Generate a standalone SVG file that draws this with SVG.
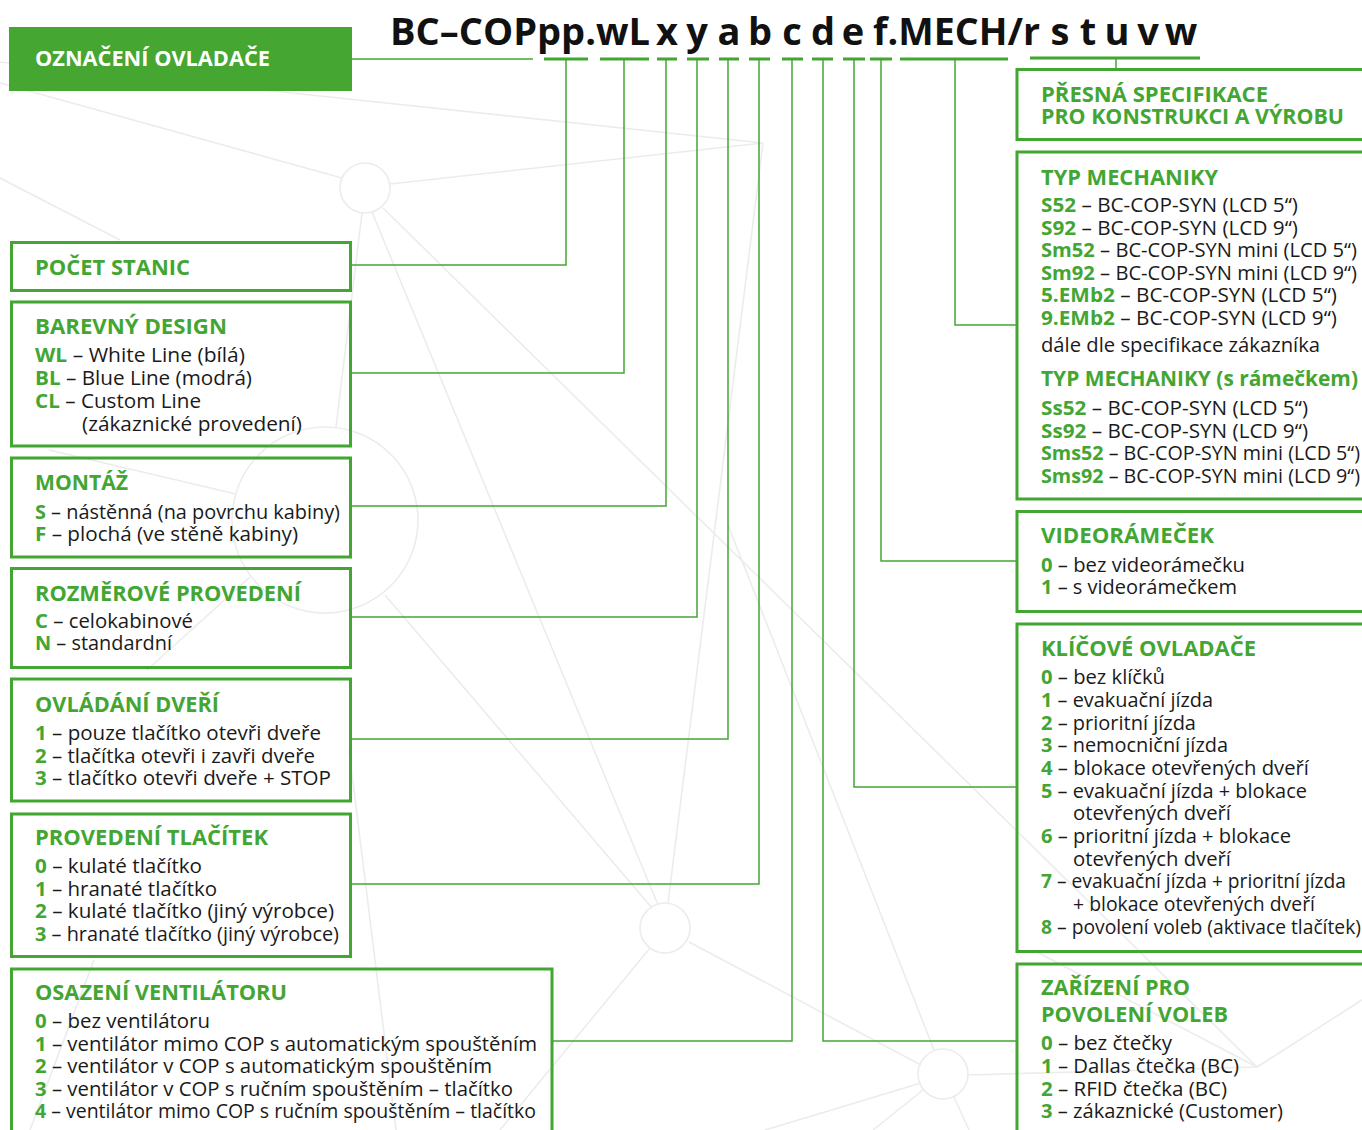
<svg xmlns="http://www.w3.org/2000/svg" width="1362" height="1130" viewBox="0 0 1362 1130">
<style>
.bg{fill:none;stroke:#ececec;stroke-width:1.6}
.box{fill:none;stroke:#43a633;stroke-width:3}
.cn{fill:none;stroke:#43a633;stroke-width:1.5}
.ul{fill:none;stroke:#43a633;stroke-width:3}
.h{font-family:"Open Sans","Noto Sans",sans-serif;font-weight:700;font-size:21px;fill:#43a633}
.hr{font-family:"Open Sans","Noto Sans",sans-serif;font-weight:700;font-size:21px;fill:#43a633}
.t{font-family:"Open Sans","Noto Sans",sans-serif;font-weight:400;font-size:20px;fill:#1a1a1a}
.tr{font-family:"Open Sans","Noto Sans",sans-serif;font-weight:400;font-size:19.5px;fill:#1a1a1a}
.k{font-weight:700;fill:#43a633}
.ti{font-family:"Open Sans","Noto Sans",sans-serif;font-weight:700;font-size:38px;fill:#111}
.w{font-family:"Open Sans","Noto Sans",sans-serif;font-weight:700;font-size:21px;fill:#fff}
</style>
<rect width="1362" height="1130" fill="#fff"/>
<g id="background">
<line class="bg" x1="0" y1="62" x2="763" y2="143"/>
<line class="bg" x1="0" y1="83" x2="342" y2="178"/>
<line class="bg" x1="390" y1="184" x2="763" y2="143"/>
<line class="bg" x1="763" y1="143" x2="668" y2="903"/>
<line class="bg" x1="372" y1="212" x2="658" y2="905"/>
<line class="bg" x1="383" y1="208" x2="1257" y2="1067"/>
<line class="bg" x1="362" y1="213" x2="336" y2="427"/>
<line class="bg" x1="728" y1="525" x2="934" y2="1050"/>
<line class="bg" x1="385" y1="595" x2="652" y2="908"/>
<line class="bg" x1="650" y1="948" x2="500" y2="1130"/>
<line class="bg" x1="689" y1="942" x2="921" y2="1065"/>
<line class="bg" x1="967" y1="1075" x2="1257" y2="1067"/>
<line class="bg" x1="921" y1="1083" x2="765" y2="1130"/>
<line class="bg" x1="923" y1="1090" x2="873" y2="1130"/>
<line class="bg" x1="954" y1="1097" x2="969" y2="1130"/>
<line class="bg" x1="1033" y1="950" x2="1257" y2="1067"/>
<line class="bg" x1="1257" y1="1067" x2="1362" y2="1000"/>
<line class="bg" x1="349" y1="750" x2="396" y2="1130"/>
<line class="bg" x1="94" y1="960" x2="30" y2="1130"/>
<line class="bg" x1="49" y1="450" x2="236" y2="494"/>
<line class="bg" x1="250" y1="577" x2="147" y2="670"/>
<line class="bg" x1="0" y1="178" x2="120" y2="240"/>
<circle class="bg" cx="365" cy="188" r="25"/>
<circle class="bg" cx="325" cy="520" r="93"/>
<circle class="bg" cx="665" cy="928" r="25"/>
<circle class="bg" cx="943" cy="1074" r="25"/>
</g>
<g id="title">
<text class="ti" x="390" y="45" textLength="260" lengthAdjust="spacingAndGlyphs">BC–COPpp.wL</text>
<text class="ti" x="667" y="45" text-anchor="middle">x</text>
<text class="ti" x="697" y="45" text-anchor="middle">y</text>
<text class="ti" x="729" y="45" text-anchor="middle">a</text>
<text class="ti" x="760" y="45" text-anchor="middle">b</text>
<text class="ti" x="792" y="45" text-anchor="middle">c</text>
<text class="ti" x="823" y="45" text-anchor="middle">d</text>
<text class="ti" x="853" y="45" text-anchor="middle">e</text>
<text class="ti" x="873" y="45" textLength="167" lengthAdjust="spacingAndGlyphs">f.MECH/r</text>
<text class="ti" x="1060" y="45" text-anchor="middle">s</text>
<text class="ti" x="1088" y="45" text-anchor="middle">t</text>
<text class="ti" x="1117" y="45" text-anchor="middle">u</text>
<text class="ti" x="1148" y="45" text-anchor="middle">v</text>
<text class="ti" x="1181" y="45" text-anchor="middle">w</text>
</g>
<g id="connectors">
<line class="cn" x1="352" y1="59" x2="533" y2="59"/>
<path class="ul" d="M544 59H588M600 59H649M657 59H677M687 59H709M719 59H739M749 59H770M782 59H803M812 59H833M843 59H865M870 59H892M900 59H1008M1030 58H1200"/>
<polyline class="cn" points="566,59 566,265 351,265"/>
<polyline class="cn" points="624,59 624,373 351,373"/>
<polyline class="cn" points="666,59 666,506 351,506"/>
<polyline class="cn" points="697,59 697,617 351,617"/>
<polyline class="cn" points="728,59 728,739 351,739"/>
<polyline class="cn" points="759,59 759,884 351,884"/>
<polyline class="cn" points="792,59 792,1041 552,1041"/>
<polyline class="cn" points="823,59 823,1041 1016,1041"/>
<polyline class="cn" points="854,59 854,787 1016,787"/>
<polyline class="cn" points="881,59 881,561 1016,561"/>
<polyline class="cn" points="955,59 955,325 1016,325"/>
<line class="cn" x1="1116" y1="58" x2="1116" y2="68"/>
</g>
<g id="oznaceni">
<rect x="9" y="27" width="343" height="64" fill="#45a632"/>
<text class="w" x="35" y="66" textLength="235" lengthAdjust="spacingAndGlyphs">OZNAČENÍ OVLADAČE</text>
</g>
<g id="pocet-stanic">
<rect class="box" x="11.5" y="242.5" width="339" height="48"/>
<text class="h" x="35" y="275" textLength="155" lengthAdjust="spacingAndGlyphs">POČET STANIC</text>
</g>
<g id="barevny-design">
<rect class="box" x="11.5" y="302" width="339" height="144"/>
<text class="h" x="35" y="334" textLength="192" lengthAdjust="spacingAndGlyphs">BAREVNÝ DESIGN</text>
<text class="t" x="35" y="362" textLength="210" lengthAdjust="spacingAndGlyphs"><tspan class="k">WL</tspan> – White Line (bílá)</text>
<text class="t" x="35" y="385" textLength="217" lengthAdjust="spacingAndGlyphs"><tspan class="k">BL</tspan> – Blue Line (modrá)</text>
<text class="t" x="35" y="408" textLength="166" lengthAdjust="spacingAndGlyphs"><tspan class="k">CL</tspan> – Custom Line</text>
<text class="t" x="82" y="431" textLength="220" lengthAdjust="spacingAndGlyphs">(zákaznické provedení)</text>
</g>
<g id="montaz">
<rect class="box" x="11.5" y="458" width="339" height="99"/>
<text class="h" x="35" y="490" textLength="93" lengthAdjust="spacingAndGlyphs">MONTÁŽ</text>
<text class="t" x="35" y="519" textLength="305" lengthAdjust="spacingAndGlyphs"><tspan class="k">S</tspan> – nástěnná (na povrchu kabiny)</text>
<text class="t" x="35" y="541" textLength="263" lengthAdjust="spacingAndGlyphs"><tspan class="k">F</tspan> – plochá (ve stěně kabiny)</text>
</g>
<g id="rozmerove-provedeni">
<rect class="box" x="11.5" y="568.5" width="339" height="99"/>
<text class="h" x="35" y="601" textLength="266" lengthAdjust="spacingAndGlyphs">ROZMĚROVÉ PROVEDENÍ</text>
<text class="t" x="35" y="628" textLength="158" lengthAdjust="spacingAndGlyphs"><tspan class="k">C</tspan> – celokabinové</text>
<text class="t" x="35" y="650" textLength="137" lengthAdjust="spacingAndGlyphs"><tspan class="k">N</tspan> – standardní</text>
</g>
<g id="ovladani-dveri">
<rect class="box" x="11.5" y="679" width="339" height="122"/>
<text class="h" x="35" y="712" textLength="184" lengthAdjust="spacingAndGlyphs">OVLÁDÁNÍ DVEŘÍ</text>
<text class="t" x="35" y="740" textLength="286" lengthAdjust="spacingAndGlyphs"><tspan class="k">1</tspan> – pouze tlačítko otevři dveře</text>
<text class="t" x="35" y="763" textLength="280" lengthAdjust="spacingAndGlyphs"><tspan class="k">2</tspan> – tlačítka otevři i zavři dveře</text>
<text class="t" x="35" y="785" textLength="296" lengthAdjust="spacingAndGlyphs"><tspan class="k">3</tspan> – tlačítko otevři dveře + STOP</text>
</g>
<g id="provedeni-tlacitek">
<rect class="box" x="11.5" y="814" width="339" height="142.5"/>
<text class="h" x="35" y="845" textLength="233" lengthAdjust="spacingAndGlyphs">PROVEDENÍ TLAČÍTEK</text>
<text class="t" x="35" y="873" textLength="167" lengthAdjust="spacingAndGlyphs"><tspan class="k">0</tspan> – kulaté tlačítko</text>
<text class="t" x="35" y="896" textLength="182" lengthAdjust="spacingAndGlyphs"><tspan class="k">1</tspan> – hranaté tlačítko</text>
<text class="t" x="35" y="918" textLength="299" lengthAdjust="spacingAndGlyphs"><tspan class="k">2</tspan> – kulaté tlačítko (jiný výrobce)</text>
<text class="t" x="35" y="941" textLength="304" lengthAdjust="spacingAndGlyphs"><tspan class="k">3</tspan> – hranaté tlačítko (jiný výrobce)</text>
</g>
<g id="osazeni-ventilatoru">
<rect class="box" x="11.5" y="969" width="540.5" height="200"/>
<text class="h" x="35" y="1000" textLength="252" lengthAdjust="spacingAndGlyphs">OSAZENÍ VENTILÁTORU</text>
<text class="t" x="35" y="1028" textLength="175" lengthAdjust="spacingAndGlyphs"><tspan class="k">0</tspan> – bez ventilátoru</text>
<text class="t" x="35" y="1051" textLength="502" lengthAdjust="spacingAndGlyphs"><tspan class="k">1</tspan> – ventilátor mimo COP s automatickým spouštěním</text>
<text class="t" x="35" y="1073" textLength="457" lengthAdjust="spacingAndGlyphs"><tspan class="k">2</tspan> – ventilátor v COP s automatickým spouštěním</text>
<text class="t" x="35" y="1096" textLength="478" lengthAdjust="spacingAndGlyphs"><tspan class="k">3</tspan> – ventilátor v COP s ručním spouštěním – tlačítko</text>
<text class="t" x="35" y="1118" textLength="501" lengthAdjust="spacingAndGlyphs"><tspan class="k">4</tspan> – ventilátor mimo COP s ručním spouštěním – tlačítko</text>
</g>
<g id="presna-specifikace">
<rect class="box" x="1017" y="69.5" width="400" height="70"/>
<text class="hr" x="1041" y="102" textLength="227" lengthAdjust="spacingAndGlyphs">PŘESNÁ SPECIFIKACE</text>
<text class="hr" x="1041" y="124" textLength="303" lengthAdjust="spacingAndGlyphs">PRO KONSTRUKCI A VÝROBU</text>
</g>
<g id="typ-mechaniky">
<rect class="box" x="1017" y="152" width="400" height="347"/>
<text class="hr" x="1041" y="185" textLength="177" lengthAdjust="spacingAndGlyphs">TYP MECHANIKY</text>
<text class="tr" x="1041" y="212" textLength="257" lengthAdjust="spacingAndGlyphs"><tspan class="k">S52</tspan> – BC-COP-SYN (LCD 5“)</text>
<text class="tr" x="1041" y="235" textLength="257" lengthAdjust="spacingAndGlyphs"><tspan class="k">S92</tspan> – BC-COP-SYN (LCD 9“)</text>
<text class="tr" x="1041" y="257" textLength="316" lengthAdjust="spacingAndGlyphs"><tspan class="k">Sm52</tspan> – BC-COP-SYN mini (LCD 5“)</text>
<text class="tr" x="1041" y="280" textLength="316" lengthAdjust="spacingAndGlyphs"><tspan class="k">Sm92</tspan> – BC-COP-SYN mini (LCD 9“)</text>
<text class="tr" x="1041" y="302" textLength="296" lengthAdjust="spacingAndGlyphs"><tspan class="k">5.EMb2</tspan> – BC-COP-SYN (LCD 5“)</text>
<text class="tr" x="1041" y="325" textLength="296" lengthAdjust="spacingAndGlyphs"><tspan class="k">9.EMb2</tspan> – BC-COP-SYN (LCD 9“)</text>
<text class="tr" x="1041" y="352" textLength="279" lengthAdjust="spacingAndGlyphs">dále dle specifikace zákazníka</text>
<text class="hr" x="1041" y="386" textLength="317" lengthAdjust="spacingAndGlyphs">TYP MECHANIKY (s rámečkem)</text>
<text class="tr" x="1041" y="415" textLength="267" lengthAdjust="spacingAndGlyphs"><tspan class="k">Ss52</tspan> – BC-COP-SYN (LCD 5“)</text>
<text class="tr" x="1041" y="438" textLength="267" lengthAdjust="spacingAndGlyphs"><tspan class="k">Ss92</tspan> – BC-COP-SYN (LCD 9“)</text>
<text class="tr" x="1041" y="460" textLength="319" lengthAdjust="spacingAndGlyphs"><tspan class="k">Sms52</tspan> – BC-COP-SYN mini (LCD 5“)</text>
<text class="tr" x="1041" y="483" textLength="319" lengthAdjust="spacingAndGlyphs"><tspan class="k">Sms92</tspan> – BC-COP-SYN mini (LCD 9“)</text>
</g>
<g id="videoramecek">
<rect class="box" x="1017" y="511.5" width="400" height="100"/>
<text class="hr" x="1041" y="543" textLength="173" lengthAdjust="spacingAndGlyphs">VIDEORÁMEČEK</text>
<text class="tr" x="1041" y="572" textLength="204" lengthAdjust="spacingAndGlyphs"><tspan class="k">0</tspan> – bez videorámečku</text>
<text class="tr" x="1041" y="594" textLength="196" lengthAdjust="spacingAndGlyphs"><tspan class="k">1</tspan> – s videorámečkem</text>
</g>
<g id="klicove-ovladace">
<rect class="box" x="1017" y="624" width="400" height="327.5"/>
<text class="hr" x="1041" y="656" textLength="215" lengthAdjust="spacingAndGlyphs">KLÍČOVÉ OVLADAČE</text>
<text class="tr" x="1041" y="684" textLength="124" lengthAdjust="spacingAndGlyphs"><tspan class="k">0</tspan> – bez klíčků</text>
<text class="tr" x="1041" y="707" textLength="172" lengthAdjust="spacingAndGlyphs"><tspan class="k">1</tspan> – evakuační jízda</text>
<text class="tr" x="1041" y="730" textLength="155" lengthAdjust="spacingAndGlyphs"><tspan class="k">2</tspan> – prioritní jízda</text>
<text class="tr" x="1041" y="752" textLength="187" lengthAdjust="spacingAndGlyphs"><tspan class="k">3</tspan> – nemocniční jízda</text>
<text class="tr" x="1041" y="775" textLength="268" lengthAdjust="spacingAndGlyphs"><tspan class="k">4</tspan> – blokace otevřených dveří</text>
<text class="tr" x="1041" y="798" textLength="266" lengthAdjust="spacingAndGlyphs"><tspan class="k">5</tspan> – evakuační jízda + blokace</text>
<text class="tr" x="1073" y="820" textLength="158" lengthAdjust="spacingAndGlyphs">otevřených dveří</text>
<text class="tr" x="1041" y="843" textLength="250" lengthAdjust="spacingAndGlyphs"><tspan class="k">6</tspan> – prioritní jízda + blokace</text>
<text class="tr" x="1073" y="866" textLength="158" lengthAdjust="spacingAndGlyphs">otevřených dveří</text>
<text class="tr" x="1041" y="888" textLength="305" lengthAdjust="spacingAndGlyphs"><tspan class="k">7</tspan> – evakuační jízda + prioritní jízda</text>
<text class="tr" x="1073" y="911" textLength="242" lengthAdjust="spacingAndGlyphs">+ blokace otevřených dveří</text>
<text class="tr" x="1041" y="934" textLength="320" lengthAdjust="spacingAndGlyphs"><tspan class="k">8</tspan> – povolení voleb (aktivace tlačítek)</text>
</g>
<g id="zarizeni-pro-povoleni-voleb">
<rect class="box" x="1017" y="964" width="400" height="200"/>
<text class="hr" x="1041" y="995" textLength="149" lengthAdjust="spacingAndGlyphs">ZAŘÍZENÍ PRO</text>
<text class="hr" x="1041" y="1022" textLength="187" lengthAdjust="spacingAndGlyphs">POVOLENÍ VOLEB</text>
<text class="tr" x="1041" y="1050" textLength="131" lengthAdjust="spacingAndGlyphs"><tspan class="k">0</tspan> – bez čtečky</text>
<text class="tr" x="1041" y="1073" textLength="198" lengthAdjust="spacingAndGlyphs"><tspan class="k">1</tspan> – Dallas čtečka (BC)</text>
<text class="tr" x="1041" y="1096" textLength="186" lengthAdjust="spacingAndGlyphs"><tspan class="k">2</tspan> – RFID čtečka (BC)</text>
<text class="tr" x="1041" y="1118" textLength="242" lengthAdjust="spacingAndGlyphs"><tspan class="k">3</tspan> – zákaznické (Customer)</text>
</g>
</svg>
